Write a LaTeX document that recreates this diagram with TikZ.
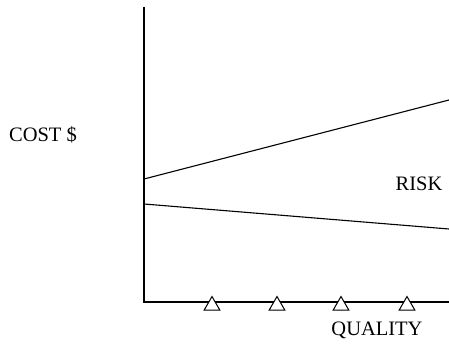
\documentclass[tikz,border=0pt]{standalone}
\usepackage{fontspec}
\setmainfont{Liberation Serif}
\usetikzlibrary{positioning,shapes.geometric}

\begin{document}
\begin{tikzpicture}[
  x=1pt, y=-1pt,
  font=\fontsize{20.5}{24}\selectfont,
  axis/.style={line width=1.3pt},
  curve/.style={line width=1.1pt},
  tri/.style={draw, regular polygon, regular polygon sides=3, minimum size=18pt, inner sep=0pt, line width=1pt, fill=white},
  lbl/.style={inner sep=0pt}
]
  \useasboundingbox (0,0) rectangle (449,344);
  \coordinate (top) at (144,7);
  \coordinate (orig) at (144,302);
  \coordinate (xend) at (449,302);
  \draw[axis] (top) -- (orig) -- (xend);

  % cost lines
  \coordinate (up0) at (144,179);
  \coordinate (up1) at (449,100);
  \coordinate (lo0) at (144,204);
  \coordinate (lo1) at (449,229);
  \draw[curve] (up0) -- (up1);
  \draw[curve] (lo0) -- (lo1);

  % quality marks
  \foreach \x/\n in {212/q1,277/q2,341/q3,407/q4}
    \node[tri] (\n) at (\x,305.5) {};

  \node[lbl] (cost) at (43,135) {COST \$};
  \node[lbl] (risk) at (419,184) {RISK};
  \node[lbl] (qual) at (377,330) {QUALITY};
\end{tikzpicture}
\end{document}
